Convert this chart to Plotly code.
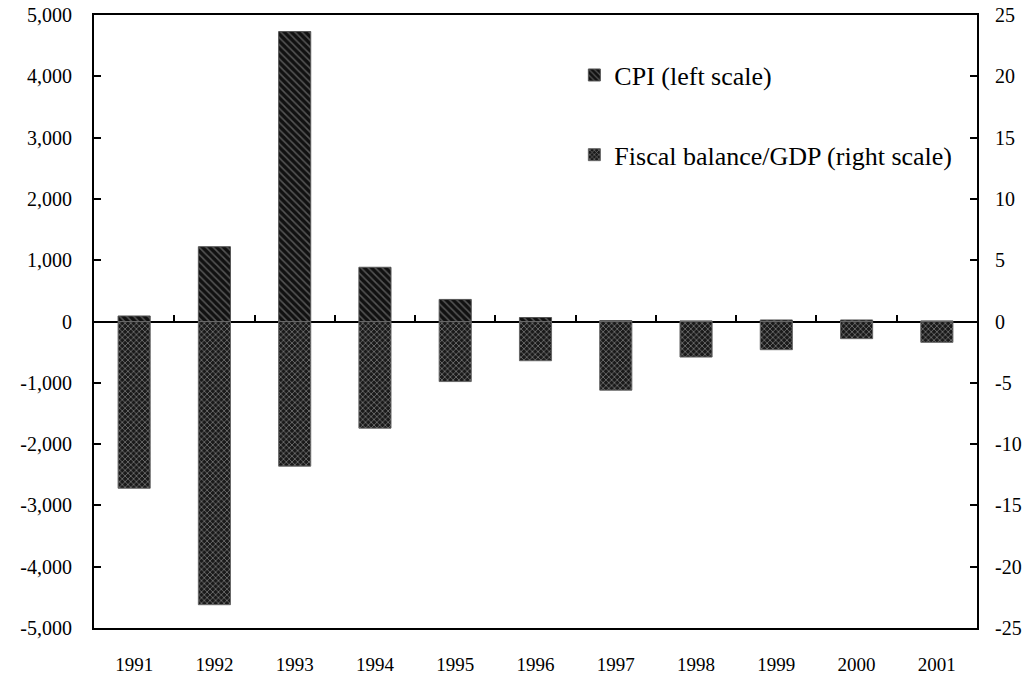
import plotly.graph_objects as go

years = ["1991", "1992", "1993", "1994", "1995", "1996", "1997", "1998", "1999", "2000", "2001"]
cpi = [90, 1220, 4730, 885, 360, 65, 15, 10, 25, 25, 10]
fiscal = [-13.6, -23.1, -11.8, -8.7, -4.9, -3.2, -5.6, -2.9, -2.3, -1.4, -1.7]

left_ticks = [5000, 4000, 3000, 2000, 1000, 0, -1000, -2000, -3000, -4000, -5000]
left_labels = ["5,000", "4,000", "3,000", "2,000", "1,000", "0", "-1,000", "-2,000", "-3,000", "-4,000", "-5,000"]
right_ticks = [25, 20, 15, 10, 5, 0, -5, -10, -15, -20, -25]
right_labels = ["25", "20", "15", "10", "5", "0", "-5", "-10", "-15", "-20", "-25"]

FONT = "Times New Roman, Liberation Serif, serif"

fig = go.Figure()
fig.add_trace(go.Bar(
    x=years, y=cpi, name="CPI (left scale)", xaxis="x", yaxis="y", width=0.4,
    marker=dict(color="#111111", line=dict(color="#555555", width=1),
                pattern=dict(shape="\\", fgcolor="#9a9a9a", bgcolor="#111111", size=5, solidity=0.3)),
    legend="legend", showlegend=True,
))
fig.add_trace(go.Bar(
    x=years, y=fiscal, name="Fiscal balance/GDP (right scale)", xaxis="x2", yaxis="y2", width=0.4,
    marker=dict(color="#222222", line=dict(color="#666666", width=1),
                pattern=dict(shape="x", fgcolor="#d8d8d8", bgcolor="#1a1a1a", size=4, solidity=0.35)),
    legend="legend2", showlegend=True,
))

fig.update_layout(
    width=1029, height=681,
    margin=dict(l=94, r=52, t=15, b=53),
    paper_bgcolor="white", plot_bgcolor="white",
    barmode="overlay",
    showlegend=True,
    font=dict(family=FONT, size=19, color="black"),
    xaxis=dict(
        type="category", range=[-0.5, 10.5], automargin=False,
        showline=True, linecolor="black", linewidth=2, mirror=True,
        ticks="", showgrid=False, ticklabeloverflow="allow",
        tickfont=dict(family=FONT, size=19), ticklabelstandoff=18,
    ),
    xaxis2=dict(
        type="category", overlaying="x", anchor="free", position=0.5, range=[-0.5, 10.5],
        automargin=False, tickson="boundaries",
        ticks="inside", ticklen=7, tickwidth=1.5, tickcolor="black",
        showticklabels=False, showline=False, showgrid=False, zeroline=False,
    ),
    yaxis=dict(
        range=[-5000, 5000], tickmode="array", tickvals=left_ticks, ticktext=left_labels,
        automargin=False, ticklabeloverflow="allow",
        showline=True, linecolor="black", linewidth=2,
        ticks="inside", ticklen=7, tickwidth=1.5, tickcolor="black",
        showgrid=False, zeroline=True, zerolinecolor="black", zerolinewidth=1.5,
        tickfont=dict(family=FONT, size=20), ticklabelstandoff=16,
    ),
    yaxis2=dict(
        overlaying="y", side="right", range=[-25, 25], anchor="x",
        tickmode="array", tickvals=right_ticks, ticktext=right_labels,
        automargin=False, ticklabeloverflow="allow",
        showline=True, linecolor="black", linewidth=2,
        ticks="inside", ticklen=7, tickwidth=1.5, tickcolor="black",
        showgrid=False, zeroline=False,
        tickfont=dict(family=FONT, size=20), ticklabelstandoff=12,
    ),
    legend=dict(x=0.544, y=0.902, xanchor="left", yanchor="middle",
                bgcolor="rgba(0,0,0,0)", font=dict(family=FONT, size=26)),
    legend2=dict(x=0.544, y=0.772, xanchor="left", yanchor="middle",
                 bgcolor="rgba(0,0,0,0)", font=dict(family=FONT, size=26)),
)

fig.write_html("out.html", config={"displayModeBar": False},
               post_script="document.body.style.margin='0';")
